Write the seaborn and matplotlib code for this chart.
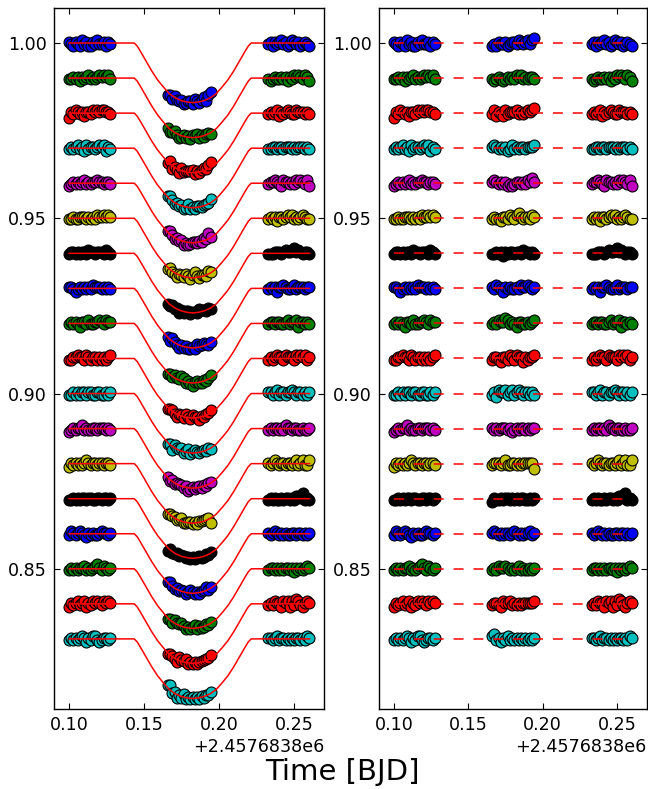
import numpy as np
import matplotlib
matplotlib.use('Agg')
import matplotlib.pyplot as plt
import seaborn as sns
from matplotlib.ticker import ScalarFormatter, FixedLocator, MultipleLocator

T0 = 2457683.8

# one light curve per night, shifted by 0.01
offsets = [1.00, 0.99, 0.98, 0.97, 0.96, 0.95, 0.94, 0.93, 0.92,
           0.91, 0.90, 0.89, 0.88, 0.87, 0.86, 0.85, 0.84, 0.83]
colors = ['b', 'g', 'r', 'c', 'm', 'y', 'k',
          'b', 'g', 'r', 'c', 'm', 'y', 'k',
          'b', 'g', 'r', 'c']

# observing windows (days since T0)
t_pre = [0.1000, 0.1015, 0.1029, 0.1044, 0.1058, 0.1072, 0.1087, 0.1101, 0.1116, 0.1130,
         0.1145, 0.1159, 0.1174, 0.1188, 0.1203, 0.1217, 0.1232, 0.1246, 0.1261, 0.1275]
t_mid = [0.1660, 0.1675, 0.1690, 0.1705, 0.1720, 0.1735, 0.1750, 0.1765, 0.1780, 0.1795,
         0.1810, 0.1825, 0.1840, 0.1855, 0.1870, 0.1885, 0.1900, 0.1915, 0.1930, 0.1945]
t_post = [0.2330, 0.2344, 0.2358, 0.2373, 0.2387, 0.2401, 0.2415, 0.2429, 0.2444, 0.2458,
          0.2472, 0.2486, 0.2500, 0.2515, 0.2529, 0.2543, 0.2557, 0.2571, 0.2586, 0.2600]

# transit model at the in-transit times
mid_model = [0.98597, 0.98538, 0.98490, 0.98446, 0.98417, 0.98383, 0.98356, 0.98341, 0.98324, 0.98314,
             0.98305, 0.98300, 0.98305, 0.98314, 0.98324, 0.98341, 0.98356, 0.98383, 0.98417, 0.98446]

# transit model curve
model_t = [0.1000, 0.1435, 0.14545, 0.1474, 0.1513, 0.1552, 0.1591, 0.1630, 0.1669, 0.1708,
           0.1747, 0.1786, 0.1825, 0.1864, 0.1903, 0.1942, 0.1981, 0.2020, 0.2059, 0.2098,
           0.2137, 0.2176, 0.21955, 0.2215, 0.2605]
model_f = [1.0, 1.0, 0.99915, 0.99779, 0.99490, 0.99201, 0.98946, 0.98742, 0.98555, 0.98436,
           0.98360, 0.98317, 0.98300, 0.98317, 0.98360, 0.98436, 0.98555, 0.98742, 0.98946, 0.99201,
           0.99490, 0.99779, 0.99915, 1.0, 1.0]

# residuals, coded digits (4.5 = zero, step 0.0006): pre | mid | post
resid_codes = [
    "54354 36453 35464 45354 | 34354 45345 54654 56467 | 45354 56453 46545 34543",
    "44545 35456 45456 56564 | 43454 34545 46564 54554 | 43454 45453 54656 54653",
    "25465 45355 46565 66554 | 46354 36455 56454 56567 | 45456 35456 54465 55454",
    "45456 45364 55456 56354 | 56545 45346 45455 45556 | 44554 55455 54545 55454",
    "34545 45645 45565 54554 | 56545 45343 45545 46575 | 45565 43655 45465 65463",
    "44544 55545 45465 56565 | 45443 55465 46754 55465 | 45453 55456 56454 56544",
    "45545 45546 55455 54654 | 44545 35455 45546 55454 | 44455 54565 56756 54554",
    "55434 54545 46555 45454 | 54654 35454 45465 56545 | 45453 55654 45645 55455",
    "45454 35546 44556 54655 | 45465 57645 43554 45456 | 45545 54456 45563 55454",
    "44556 55465 45545 45456 | 45543 55465 46553 54556 | 45456 55465 55465 65645",
    "44545 45545 54455 44545 | 45365 56456 45654 55454 | 55456 45545 56545 54545",
    "34545 56454 45545 55454 | 54545 55453 45455 45455 | 45455 45465 54554 45445",
    "35454 54565 45545 54554 | 45554 56445 54545 55552 | 54565 45545 54564 56446",
    "44545 45545 54455 45545 | 35445 45545 45455 44545 | 45454 45455 45466 57454",
    "46545 65435 45445 65545 | 56545 45545 65454 55645 | 54565 45454 45545 54545",
    "45454 55645 45675 46545 | 45465 56545 45645 44545 | 45545 45455 45354 54565",
    "35456 45635 46565 46565 | 45543 65564 54545 55556 | 45465 53656 36476 43565",
    "45454 56535 46643 45545 | 67453 54645 45454 54545 | 55456 45545 45455 45465",
]


def decode(s):
    return (np.array([int(c) for c in s if c.isdigit()]) - 4.5) * 0.0006


sns.set_style('ticks', rc={'axes.edgecolor': 'black', 'xtick.color': 'black',
                           'ytick.color': 'black', 'text.color': 'black',
                           'axes.labelcolor': 'black'})
plt.rcParams['font.family'] = ['DejaVu Sans']
plt.rcParams['lines.dashed_pattern'] = [6.5, 6.5]

fig = plt.figure(figsize=(6.48, 7.89), dpi=100)
axL = fig.add_axes([0.0833, 0.1014, 0.4167, 0.8885])
axR = fig.add_axes([0.5849, 0.1014, 0.4130, 0.8885])

t_all = np.concatenate([t_pre, t_mid, t_post]) + T0
for off, col, code in zip(offsets, colors, resid_codes):
    r_pre, r_mid, r_post = [decode(p) for p in code.split('|')]
    shift = off - 1.0
    flux = np.concatenate([1.0 + shift + r_pre,
                           np.array(mid_model) + shift + r_mid,
                           1.0 + shift + r_post])
    res = off + np.concatenate([r_pre, r_mid, r_post])

    sns.scatterplot(x=t_all, y=flux, ax=axL, color=col, edgecolor='k',
                    s=62, linewidth=0.8, zorder=2, legend=False)
    sns.lineplot(x=np.array(model_t) + T0, y=np.array(model_f) + shift, ax=axL,
                 color='red', lw=1.1, estimator=None, sort=False, zorder=3)

    sns.scatterplot(x=t_all, y=res, ax=axR, color=col, edgecolor='k',
                    s=62, linewidth=0.8, zorder=2, legend=False)
    sns.lineplot(x=[t_all[0], t_all[-1]], y=[off, off], ax=axR,
                 color='red', lw=1.1, linestyle='--', estimator=None,
                 sort=False, zorder=3)

for ax in (axL, axR):
    ax.set_xlim(T0 + 0.09, T0 + 0.27)
    ax.set_ylim(0.81, 1.01)
    ax.xaxis.set_major_locator(FixedLocator(T0 + np.array([0.10, 0.15, 0.20, 0.25])))
    ax.xaxis.set_major_formatter(ScalarFormatter(useOffset=T0))
    ax.yaxis.set_major_locator(MultipleLocator(0.05))
    ax.tick_params(direction='in', top=True, right=True, length=4.3, width=0.8,
                   labelsize=12.6, pad=5)
    ax.xaxis.get_offset_text().set_fontsize(12.6)
    for sp in ax.spines.values():
        sp.set_linewidth(1.0)
        sp.set_visible(True)

fig.text(0.528, 0.0215, 'Time [BJD]', fontsize=21, ha='center', va='center')

fig.savefig('out.png', dpi=100)
